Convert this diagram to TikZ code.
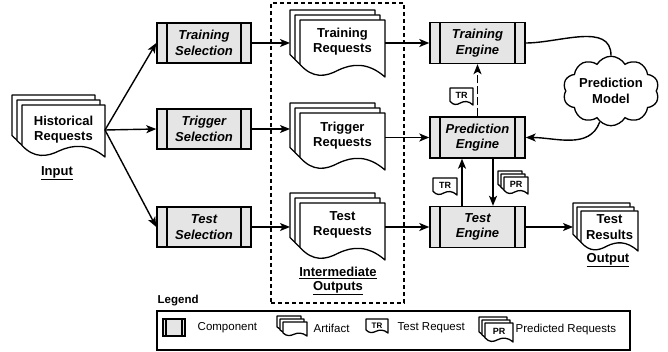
\documentclass[tikz,border=0pt]{standalone}
\usepackage{fontspec}
\setmainfont{Liberation Sans}
\usetikzlibrary{arrows.meta,shapes.symbols,calc}

\newcommand\docsheet[4]{%
 \filldraw[sheetline] ({#1},{#2}) -- ({#1+#3},{#2}) -- ({#1+#3},{#2+#4})
   .. controls ({#1+0.8*#3},{#2+0.74*#4}) and ({#1+0.62*#3},{#2+0.76*#4}) .. ({#1+0.45*#3},{#2+0.88*#4})
   .. controls ({#1+0.3*#3},{#2+1.0*#4}) and ({#1+0.15*#3},{#2+1.03*#4}) .. ({#1},{#2+0.78*#4}) -- cycle;}
\newcommand\docstack[5]{%
 \docsheet{#1}{#2}{#3}{#4}%
 \docsheet{#1+#5}{#2+#5}{#3}{#4}%
 \docsheet{#1+2*#5}{#2+2*#5}{#3}{#4}}

\begin{document}
\begin{tikzpicture}[x=1pt,y=-1pt, line width=1.4pt,
 >={Stealth[length=10pt,width=8pt,inset=2.5pt]},
 sheetline/.style={fill=white, draw=black, line width=1.3pt, line join=round},
 comp/.style={draw, fill=gray!20, minimum width=94pt, minimum height=40pt, inner sep=0, align=center,
   font=\fontsize{13}{15.5}\selectfont\bfseries\itshape,
   path picture={
     \draw[line width=1.4pt] ([xshift=10pt]path picture bounding box.north west) -- ([xshift=10pt]path picture bounding box.south west);
     \draw[line width=1.4pt] ([xshift=-10pt]path picture bounding box.north east) -- ([xshift=-10pt]path picture bounding box.south east);}},
 compicon/.style={draw, fill=gray!20, minimum width=22pt, minimum height=17pt, inner sep=0,
   path picture={
     \draw[line width=1.2pt] ([xshift=3pt]path picture bounding box.north west) -- ([xshift=3pt]path picture bounding box.south west);
     \draw[line width=1.2pt] ([xshift=-3pt]path picture bounding box.north east) -- ([xshift=-3pt]path picture bounding box.south east);}},
 frame/.style={draw=none, inner sep=0, outer sep=0},
 doctext/.style={align=center, font=\fontsize{13}{15.5}\selectfont\bfseries, inner sep=0},
 labeltext/.style={align=center, font=\fontsize{13}{14}\selectfont\bfseries, inner sep=0},
 tagtext/.style={font=\fontsize{9}{10}\selectfont\bfseries, inner sep=0},
 legtext/.style={font=\fontsize{11.5}{13}\selectfont, anchor=west, inner sep=0}]

\useasboundingbox (0,0) rectangle (668,352);

% intermediate outputs box
\node[draw, line width=1.3pt, dash pattern=on 4pt off 3pt, minimum width=133pt, minimum height=300pt, inner sep=0] (inter) at (337.5,153) {};

% historical requests
\docstack{12}{95}{83}{52}{5}
\node[frame, minimum width=93pt, minimum height=62pt] (hist) at (58.5,130) {};
\node[doctext] at (63.5,129.5) {Historical\\Requests};
\node[labeltext] at (57,173) {\underline{Input}};

% artifacts
\docstack{290}{10}{85}{57}{5}
\node[frame, minimum width=95pt, minimum height=67pt] (trq) at (337.5,43.5) {};
\node[doctext] at (342.5,41.5) {Training\\Requests};
\docstack{290}{103}{85}{57}{5}
\node[frame, minimum width=95pt, minimum height=67pt] (tgq) at (337.5,136.5) {};
\node[doctext] at (342.5,135.5) {Trigger\\Requests};
\docstack{290}{193}{85}{57}{5}
\node[frame, minimum width=95pt, minimum height=67pt] (tsq) at (337.5,226.5) {};
\node[doctext] at (342.5,225) {Test\\Requests};
\node[labeltext] at (338,281) {\underline{Intermediate}\\\underline{Outputs}};

% test results
\docstack{573}{203}{57}{40}{4}
\node[frame, minimum width=65pt, minimum height=48pt] (tres) at (605.5,227) {};
\node[doctext] at (609.5,227) {Test\\Results};
\node[labeltext] at (608,260) {\underline{Output}};

% components
\node[comp] (tsel) at (204,43) {Training\\Selection};
\node[comp] (gsel) at (204,129) {Trigger\\Selection};
\node[comp] (xsel) at (204,227) {Test\\Selection};
\node[comp, minimum width=95pt, minimum height=41pt] (te) at (477.5,43) {Training\\Engine};
\node[comp, minimum width=95pt, minimum height=41pt] (pe) at (477.5,137.5) {Prediction\\Engine};
\node[comp, minimum width=95pt, minimum height=41pt] (xe) at (477.5,227) {Test\\Engine};

% cloud
\node[cloud, draw, line width=1.3pt, fill=white, cloud puffs=10, cloud puff arc=120, aspect=1.6, minimum width=96pt, minimum height=62pt, inner sep=0, align=center, font=\fontsize{13}{15.5}\selectfont\bfseries] (pm) at (611,91) {Prediction\\Model};

% tags
\docsheet{450}{88}{23}{17}
\node[tagtext] (tr1) at (461.5,95.5) {TR};
\docsheet{433}{178}{24}{17}
\node[tagtext] (tr2) at (445,185.5) {TR};
\docstack{498}{171}{24}{17}{3}
\node[tagtext] (pr1) at (516,184) {PR};

% connectors
\draw[->] (hist.east) -- (tsel.west);
\draw[->] (hist.east) -- (gsel.west);
\draw[->] (hist.east) -- (xsel.west);
\draw[->] (tsel.east) -- (tsel.east -| trq.west);
\draw[->] (gsel.east) -- (gsel.east -| tgq.west);
\draw[->] (xsel.east) -- (xsel.east -| tsq.west);
\draw[->] (trq.east |- te.west) -- (te.west);
\draw[->] (tgq.east |- pe.west) -- (pe.west);
\draw[->] (tsq.east |- xe.west) -- (xe.west);
\draw[->] (xe.east) -- (xe.east -| tres.west);
\draw[->, dash pattern=on 8pt off 3pt] (pe.north) -- (te.south);
\draw[->] ([xshift=-15.5pt]xe.north) -- ([xshift=-15.5pt]pe.south);
\draw[->] ([xshift=15.5pt]pe.south) -- ([xshift=15.5pt]xe.north);
\draw (te.east) to[out=0,in=90] (pm.north);
\draw[->] (pm.250) to[out=-110,in=0] (pe.east);

% legend
\node[font=\fontsize{11.5}{13}\selectfont\bfseries, anchor=west, inner sep=0] (legtitle) at (157,301) {Legend};
\node[draw, line width=1.3pt, minimum width=473pt, minimum height=39pt, inner sep=0] (leg) at (393.5,330.5) {};
\node[compicon] (lcomp) at (174,327.5) {};
\node[legtext] at (197,328) {Component};
\docstack{277}{316}{24}{14}{3}
\node[legtext] at (313,328) {Artifact};
\docsheet{366}{319}{22}{14}
\node[tagtext, font=\fontsize{8}{9}\selectfont\bfseries] at (377,325.5) {TR};
\node[legtext] at (397,328) {Test Request};
\docstack{479}{317}{28}{19}{3}
\node[tagtext] at (499,331) {PR};
\node[legtext] at (515,330) {Predicted Requests};
\end{tikzpicture}
\end{document}
